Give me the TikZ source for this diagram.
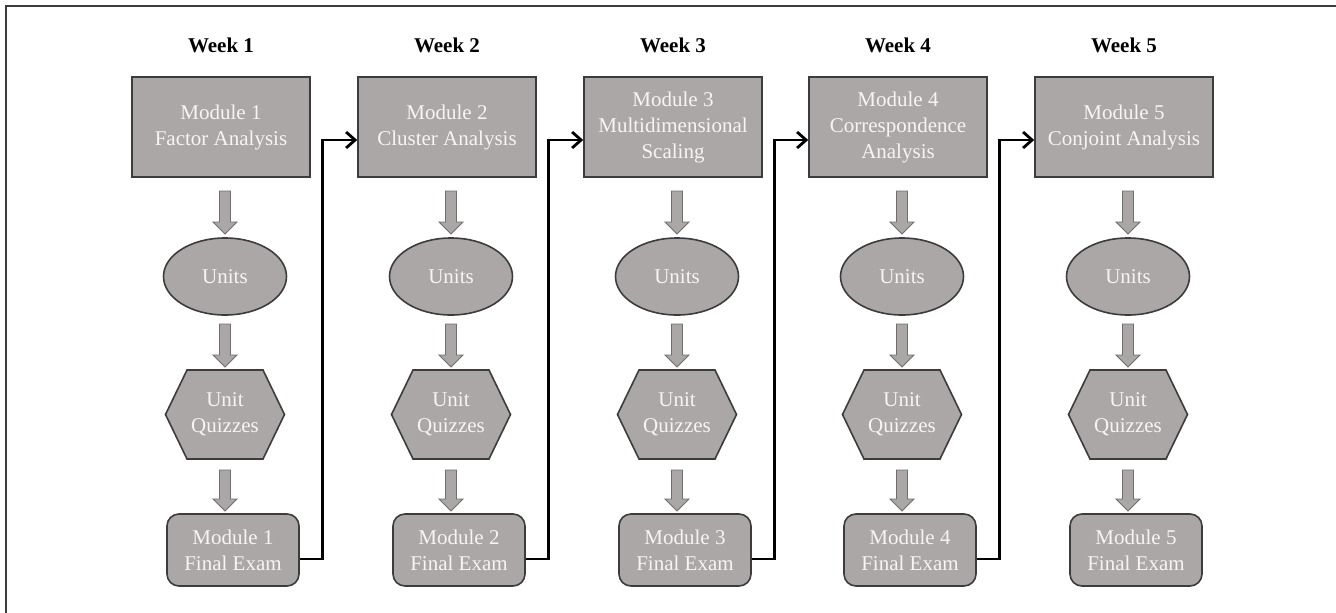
\documentclass[tikz,border=0pt]{standalone}
\usepackage{fontspec}
\setmainfont{Liberation Serif}
\usetikzlibrary{shapes.geometric,arrows.meta,calc}
\definecolor{boxfill}{HTML}{ABA7A7}
\definecolor{boxline}{HTML}{3C3C3C}
\definecolor{txtcol}{HTML}{F6F4F4}
\definecolor{arrline}{HTML}{6E6E6E}
\tikzset{
  shapebase/.style={fill=boxfill, draw=boxline, line width=1.6pt, text=txtcol, align=center, inner sep=0pt,
    font=\fontsize{21}{26}\selectfont},
  modbox/.style={shapebase, rectangle, minimum width=178pt, minimum height=100pt},
  unitell/.style={shapebase, ellipse, minimum width=123pt, minimum height=77pt},
  quiztext/.style={text=txtcol, align=center, inner sep=0pt, font=\fontsize{21}{26}\selectfont},
  hexline/.style={fill=boxfill, draw=boxline, line width=1.6pt},
  exambox/.style={shapebase, rectangle, rounded corners=12pt, minimum width=132pt, minimum height=72pt},
  weeklabel/.style={font=\bfseries\fontsize{21}{25}\selectfont, inner sep=0pt},
  garrowline/.style={fill=boxfill, draw=arrline, line width=0.9pt, line join=miter},
  conn/.style={line width=2.8pt, black, -{Straight Barb[length=9pt,width=16pt,line width=2.8pt]}},
  pics/garrow/.style={code={
    \draw[garrowline] (-5.5,0) -- (5.5,0) -- (5.5,#1-12) -- (12,#1-12) -- (0,#1) -- (-12,#1-12) -- (-5.5,#1-12) -- cycle;}}
}
\begin{document}
\begin{tikzpicture}[x=1pt,y=-1pt]
\useasboundingbox (0,0) rectangle (1336,613);
\draw[line width=2pt, color=boxline] (6,613) -- (6,6) -- (1336,6);

% columns
\foreach \i/\c/\mtext in {
  1/225/{Module 1\\Factor Analysis},
  2/451/{Module 2\\Cluster Analysis},
  3/677/{Module 3\\Multidimensional\\Scaling},
  4/902/{Module 4\\Correspondence\\Analysis},
  5/1128/{Module 5\\Conjoint Analysis}} {
  \node[weeklabel] (w\i) at (\c-4,45) {Week \i};
  \node[modbox] (m\i) at (\c-4,127) {\mtext};
  \node[unitell] (u\i) at (\c,276.5) {Units};
  \draw[hexline] (\c-38,370) -- (\c+38,370) -- (\c+59.5,414.5) -- (\c+38,459) -- (\c-38,459) -- (\c-59.5,414.5) -- cycle;
  \node[quiztext] (q\i) at (\c,414.5) {Unit\\Quizzes};
  \node[exambox] (e\i) at (\c+8,550) {Module \i\\Final Exam};
  \pic at (\c,191) {garrow=43};
  \pic at (\c,324) {garrow=43};
  \pic at (\c,470) {garrow=41};
}

% connectors between weeks
\foreach \i/\j in {1/2,2/3,3/4,4/5} {
  \coordinate (k\i) at ($(m\i.east)+(12,13)$);
  \draw[conn] ($(e\i.east)+(0,9)$) -| (k\i) -- ($(m\j.west)+(0,13)$);
}
\end{tikzpicture}
\end{document}
